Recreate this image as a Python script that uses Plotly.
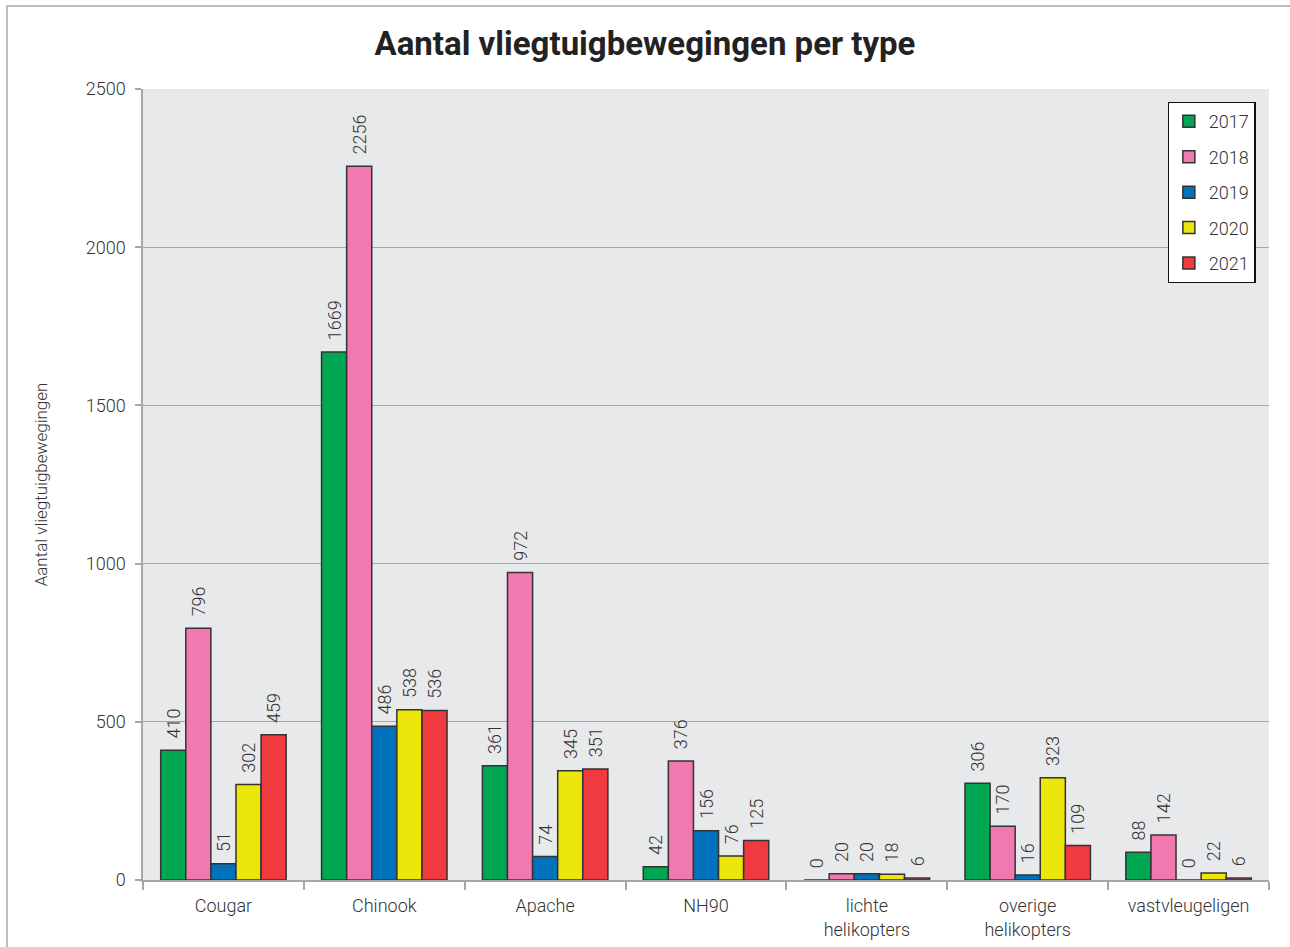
import plotly.graph_objects as go

categories = ["Cougar", "Chinook", "Apache", "NH90", "lichte<br>helikopters",
              "overige<br>helikopters", "vastvleugeligen"]
years = ["2017", "2018", "2019", "2020", "2021"]
v2017 = [410, 1669, 361, 42, 0, 306, 88]
v2018 = [796, 2256, 972, 376, 20, 170, 142]
v2019 = [51, 486, 74, 156, 20, 16, 0]
v2020 = [302, 538, 345, 76, 18, 323, 22]
v2021 = [459, 536, 351, 125, 6, 109, 6]
series = [v2017, v2018, v2019, v2020, v2021]
colors = ["#00A651", "#F279B0", "#0072BC", "#EDE60C", "#EF3B3F"]
y_ticks = [0, 500, 1000, 1500, 2000, 2500]

FONT = "Roboto"
TXT = "#333333"
fig = go.Figure()
for yr, vals, col in zip(years, series, colors):
    fig.add_trace(go.Bar(
        name=yr, x=categories, y=vals, legendgroup=yr,
        marker=dict(color=col, line=dict(color="#333333", width=1.5)),
        text=["\u00a0\u00a0" + str(v) for v in vals], textposition="outside", textangle=-90,
        constraintext="none",
        textfont=dict(family=FONT, size=18, color=TXT, weight=300),
        cliponaxis=False,
    ))

fig.update_layout(
    width=1290, height=947,
    margin=dict(l=143, r=21, t=89, b=67),
    paper_bgcolor="white", plot_bgcolor="#E8E9EB",
    barmode="group", bargap=0.22, bargroupgap=0,
    title=dict(text="<b>Aantal vliegtuigbewegingen per type</b>", x=0.5, xanchor="center",
               y=0.954, yanchor="middle",
               font=dict(family=FONT, size=33, color="#222222")),
    font=dict(family=FONT, size=18, color=TXT, weight=300),
    legend=dict(x=0.910, y=0.9836, xanchor="left", yanchor="top",
                bgcolor="white", bordercolor="#111111", borderwidth=1.2,
                font=dict(family=FONT, size=18, color=TXT, weight=300),
                traceorder="grouped", tracegroupgap=9, itemwidth=30),
    showlegend=True,
)
fig.update_xaxes(
    showline=True, linecolor="#A6A6A6", linewidth=1.5,
    ticks="outside", tickson="boundaries", ticklen=8, tickcolor="#A6A6A6", tickwidth=1.5,
    tickfont=dict(family=FONT, size=18, color=TXT, weight=300),
    ticklabelstandoff=9, automargin=False,
    showgrid=False,
)
fig.update_yaxes(
    range=[0, 2500], tickvals=y_ticks, ticktext=[str(t) for t in y_ticks],
    showline=True, linecolor="#A6A6A6", linewidth=1.5,
    ticks="outside", ticklen=6, tickcolor="#A6A6A6", tickwidth=1.5,
    gridcolor="#A6A6A6", gridwidth=1.2, zeroline=False,
    tickfont=dict(family=FONT, size=18, color=TXT, weight=300),
    ticklabelstandoff=6, automargin=False,
    title=dict(text="Aantal vliegtuigbewegingen", standoff=34,
               font=dict(family=FONT, size=17, color=TXT, weight=300)),
)
# outer frame
fig.add_shape(type="rect", xref="paper", yref="paper",
              x0=(7 - 143) / 1126, x1=(1300 - 143) / 1126,
              y0=-0.2, y1=1 + (89 - 6) / 791,
              line=dict(color="#A6A6A6", width=1.5), fillcolor="rgba(0,0,0,0)", layer="below")

fig.write_html("out.html", config={"displayModeBar": False},
               post_script="document.body.style.margin='0';")
